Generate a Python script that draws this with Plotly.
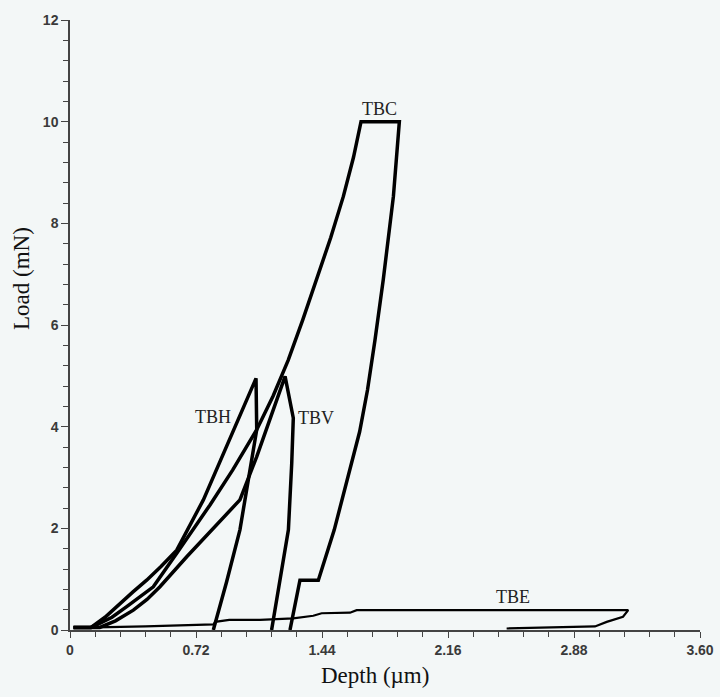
import plotly.graph_objects as go

# ---- data (depth in µm, load in mN) ----
tbh_depth = [0.02, 0.12, 0.2, 0.286, 0.36, 0.438, 0.52, 0.61, 0.762, 1.063, 1.067, 0.971, 0.895, 0.819]
tbh_load = [0.05, 0.05, 0.25, 0.53, 0.75, 0.98, 1.25, 1.57, 2.56, 4.95, 3.94, 1.97, 0.95, 0.0]

tbc_depth = [0.02, 0.12, 0.152, 0.24, 0.324, 0.40, 0.476, 0.61, 0.7, 0.8, 0.93, 1.067, 1.16, 1.247, 1.33,
             1.41, 1.49, 1.562, 1.62, 1.663, 1.882, 1.848, 1.79, 1.743, 1.700, 1.655, 1.595, 1.51, 1.419,
             1.314, 1.257]
tbc_load = [0.05, 0.05, 0.1, 0.25, 0.46, 0.65, 0.85, 1.51, 1.95, 2.46, 3.15, 3.94, 4.6, 5.31, 6.1,
            6.89, 7.72, 8.53, 9.3, 10.0, 10.0, 8.53, 6.89, 5.71, 4.72, 3.9, 3.08, 1.97, 0.98,
            0.98, 0.0]

tbv_depth = [0.02, 0.12, 0.17, 0.26, 0.362, 0.44, 0.514, 0.667, 0.8, 0.9, 0.971, 1.067, 1.229,
             1.276, 1.267, 1.248, 1.181, 1.152]
tbv_load = [0.05, 0.05, 0.05, 0.18, 0.39, 0.6, 0.85, 1.44, 1.94, 2.3, 2.56, 3.41, 4.99,
            4.17, 3.28, 1.97, 0.66, 0.0]

tbe_depth = [0.02, 0.15, 0.43, 0.62, 0.82, 0.83, 0.91, 1.086, 1.276, 1.39, 1.438, 1.6, 1.638,
             3.19, 3.16, 3.067, 3.0, 2.495]
tbe_load = [0.05, 0.05, 0.07, 0.09, 0.11, 0.16, 0.2, 0.2, 0.23, 0.28, 0.33, 0.34, 0.39,
            0.39, 0.26, 0.16, 0.07, 0.03]

label_names = ["TBC", "TBH", "TBV", "TBE"]
label_x = [1.771, 0.819, 1.405, 2.531]
label_y = [10.24, 4.2, 4.18, 0.64]

x_tickvals = [0, 0.72, 1.44, 2.16, 2.88, 3.60]
x_ticktext = ["0", "0.72", "1.44", "2.16", "2.88", "3.60"]
y_tickvals = [0, 2, 4, 6, 8, 10, 12]
y_ticktext = ["0", "2", "4", "6", "8", "10", "12"]

BG = "#f3f7f7"
AX = "#444444"
SERIF = "Liberation Serif, Times New Roman, serif"

fig = go.Figure()
for dx, dy, w in [(tbh_depth, tbh_load, 3.5), (tbc_depth, tbc_load, 3.5),
                  (tbv_depth, tbv_load, 3.5), (tbe_depth, tbe_load, 2.2)]:
    fig.add_trace(go.Scatter(x=dx, y=dy, mode="lines",
                             line=dict(color="black", width=w), showlegend=False,
                             hoverinfo="skip"))

for name, lx, ly in zip(label_names, label_x, label_y):
    fig.add_annotation(x=lx, y=ly, text=name, showarrow=False,
                       font=dict(family=SERIF, size=18, color="#222"),
                       xanchor="center", yanchor="middle")

fig.add_annotation(xref="paper", yref="paper", x=0.484, y=-0.0738, text="Depth (µm)",
                   showarrow=False, font=dict(family=SERIF, size=23, color="#111"),
                   xanchor="center", yanchor="middle")
fig.add_annotation(xref="paper", yref="paper", x=-0.0778, y=0.577, text="Load (mN)",
                   showarrow=False, textangle=-90,
                   font=dict(family=SERIF, size=23, color="#111"),
                   xanchor="center", yanchor="middle")

tickfont = dict(family="Liberation Sans, Arial, sans-serif", size=14, color="#3a3a3a", weight="bold")
fig.update_xaxes(range=[0, 3.6], tickvals=x_tickvals, ticktext=x_ticktext, showgrid=False,
                 zeroline=False, showline=True, linecolor=AX, linewidth=1.5, automargin=False,
                 ticks="outside", ticklen=6, tickwidth=1.2, tickcolor=AX, tickfont=tickfont,
                 ticklabeloverflow="allow",
                 minor=dict(dtick=0.144, tick0=0, ticks="outside", ticklen=5, tickcolor=AX, tickwidth=1, showgrid=False))
fig.update_yaxes(range=[0, 12], tickvals=y_tickvals, ticktext=y_ticktext, showgrid=False,
                 zeroline=False, showline=True, linecolor=AX, linewidth=1.5, automargin=False,
                 ticks="outside", ticklen=7, tickwidth=1.2, tickcolor=AX, tickfont=tickfont,
                 minor=dict(dtick=0.4, tick0=0, ticks="outside", ticklen=5, tickcolor=AX, tickwidth=1, showgrid=False))

fig.update_layout(width=720, height=697, margin=dict(l=70, r=20, t=20, b=67),
                  paper_bgcolor=BG, plot_bgcolor=BG, showlegend=False)

# remove the default 8px page margin so the figure fills the window exactly
fig.write_html("out.html", config={"displayModeBar": False},
               post_script="document.body.style.margin='0';document.body.style.overflow='hidden';")
